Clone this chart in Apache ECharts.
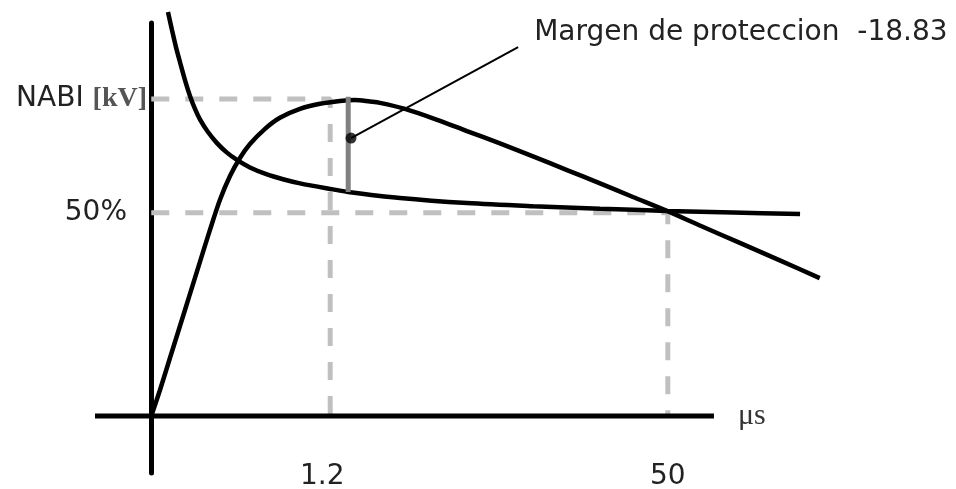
<!DOCTYPE html>
<html>
<head>
<meta charset="utf-8">
<title>Margen de proteccion</title>
<script src="https://cdn.jsdelivr.net/npm/echarts@6/dist/echarts.min.js"></script>
<style>
  html, body { margin: 0; padding: 0; background: #fff; }
  #chart { width: 956px; height: 489px; }
</style>
</head>
<body>
<div id="chart"></div>
<script>
// schematic units: x in arbitrary time units, y in % of NABI
const xTickValues = [31.8, 91.8];
const xTickLabels = ['1.2', '50'];
const yTickValues = [100, 64.1];
const yTickLabels = ['NABI', '50%'];
const axisUnit = '[kV]';
const timeUnit = 'μs';

// impulse wave (rise to the crest, then slow tail)
const impulseWave = [
    [0, 0], [1.55, 8.2], [3.32, 18.3], [5.1, 28.4], [6.88, 38.5], [8.65, 48.6],
    [10.43, 58.7], [12.21, 68.2], [13.99, 75.7], [15.76, 81.4], [17.54, 85.8],
    [20.21, 90.6], [22.86, 94.1], [26.43, 96.9], [29.98, 98.5], [33.54, 99.4],
    [36.2, 99.7], [38.87, 99.2], [40.64, 98.8], [45.09, 96.9], [50.42, 93.7],
    [56.1, 89.9], [61.97, 86.0], [67.84, 81.9], [73.88, 77.6], [79.75, 73.4],
    [85.6, 69.1], [91.64, 64.7], [97.5, 60.1], [104.6, 54.6], [111.7, 49.1],
    [118.8, 43.5]
];

// volt-time curve of the insulation
const voltTimeCurve = [
    [2.97, 127.5], [3.68, 121.8], [4.39, 116.4], [5.1, 111.7], [5.99, 106.0],
    [6.88, 101.0], [7.77, 96.9], [8.65, 93.6], [10.08, 89.6], [11.68, 86.1],
    [13.45, 83.1], [15.23, 80.8], [17.54, 78.4], [20.56, 76.2], [23.4, 74.7],
    [26.43, 73.4], [32.29, 71.5], [34.96, 70.7], [44.2, 68.8], [56.1, 67.2],
    [67.84, 66.2], [79.75, 65.4], [91.64, 64.7], [103.4, 64.2], [115.3, 63.7]
];

const timeAxisLine = [[-10, 0], [100, 0]];
const nabiGuide = [[0, 100], [31.8, 100], [31.8, 0]];
const halfGuide = [[0, 64.1], [91.8, 64.1], [91.8, 0]];
const marginBar = [[35, 70.7], [35, 100.7]];
const marginDot = [[35.5, 87.7]];
const marginLeader = [[35.5, 87.7], [65.2, 116.4]];
const marginText = 'Margen de proteccion  -18.83';

const chart = echarts.init(document.getElementById('chart'));

const curveStyle = { color: '#000', width: 4.5 };
const guideStyle = { color: '#c0c0c0', width: 5, type: [18, 16] };

const option = {
    animation: false,
    backgroundColor: '#fff',
    grid: {
        left: 95,
        right: 129.5,
        top: 23,
        bottom: 16,
        containLabel: false,
        outerBoundsMode: 'none'
    },
    xAxis: {
        type: 'value',
        min: -10,
        max: 120,
        axisLine: { show: false },
        axisTick: { show: false },
        splitLine: { show: false },
        axisLabel: {
            customValues: xTickValues,
            margin: -10,
            formatter: (value) => {
                const i = xTickValues.indexOf(value);
                if (i < 0) return '';
                return i === 0 ? '{s|' + xTickLabels[i] + '}' : '{t|' + xTickLabels[i] + '}';
            },
            rich: {
                s: { fontFamily: 'DejaVu Sans', fontSize: 28, color: '#222', padding: [0, 16, 0, 0] },
                t: { fontFamily: 'DejaVu Sans', fontSize: 28, color: '#222' }
            }
        }
    },
    yAxis: {
        type: 'value',
        min: -18,
        max: 124,
        axisLine: { show: true, onZero: true, lineStyle: { color: '#000', width: 5 } },
        axisTick: { show: false },
        splitLine: { show: false },
        axisLabel: {
            customValues: yTickValues,
            margin: -52,
            formatter: (value) => {
                const i = yTickValues.indexOf(value);
                if (i < 0) return '';
                return i === 0
                    ? '{a|' + yTickLabels[i] + ' }{b|' + axisUnit + '}'
                    : '{c|' + yTickLabels[i] + '}';
            },
            rich: {
                a: { fontFamily: 'DejaVu Sans', fontSize: 28, color: '#222' },
                b: { fontFamily: 'Liberation Serif', fontSize: 28, fontWeight: 'bold', color: '#555' },
                c: { fontFamily: 'DejaVu Sans', fontSize: 28, color: '#222', padding: [0, 20, 0, 0] }
            }
        }
    },
    series: [
        {
            name: 'Eje de tiempo',
            type: 'line',
            data: timeAxisLine,
            symbol: 'none',
            lineStyle: { color: '#000', width: 5 },
            endLabel: {
                show: true,
                formatter: timeUnit,
                distance: 24,
                fontFamily: 'Liberation Serif',
                fontSize: 30,
                color: '#333'
            },
            z: 2
        },
        {
            name: 'NABI guide',
            type: 'line',
            data: nabiGuide,
            symbol: 'none',
            lineStyle: guideStyle,
            z: 1
        },
        {
            name: '50% guide',
            type: 'line',
            data: halfGuide,
            symbol: 'none',
            lineStyle: guideStyle,
            z: 1
        },
        {
            name: 'Onda de impulso',
            type: 'line',
            data: impulseWave,
            symbol: 'none',
            smooth: 0.3,
            clip: false,
            lineStyle: curveStyle,
            z: 3
        },
        {
            name: 'Curva V-t',
            type: 'line',
            data: voltTimeCurve,
            symbol: 'none',
            smooth: 0.3,
            clip: false,
            lineStyle: curveStyle,
            z: 3
        },
        {
            name: 'Margen',
            type: 'line',
            data: marginBar,
            symbol: 'none',
            lineStyle: { color: '#808080', width: 5 },
            z: 4
        },
        {
            name: 'Leader',
            type: 'line',
            data: marginLeader,
            symbol: 'none',
            clip: false,
            lineStyle: { color: '#000', width: 2 },
            endLabel: {
                show: true,
                formatter: marginText,
                distance: 16,
                offset: [0, -14],
                fontFamily: 'DejaVu Sans',
                fontSize: 28,
                color: '#222'
            },
            z: 5
        },
        {
            name: 'Dot',
            type: 'scatter',
            data: marginDot,
            symbol: 'circle',
            symbolSize: 11,
            itemStyle: { color: '#000' },
            z: 6
        }
    ]
};

chart.setOption(option);
</script>
</body>
</html>
